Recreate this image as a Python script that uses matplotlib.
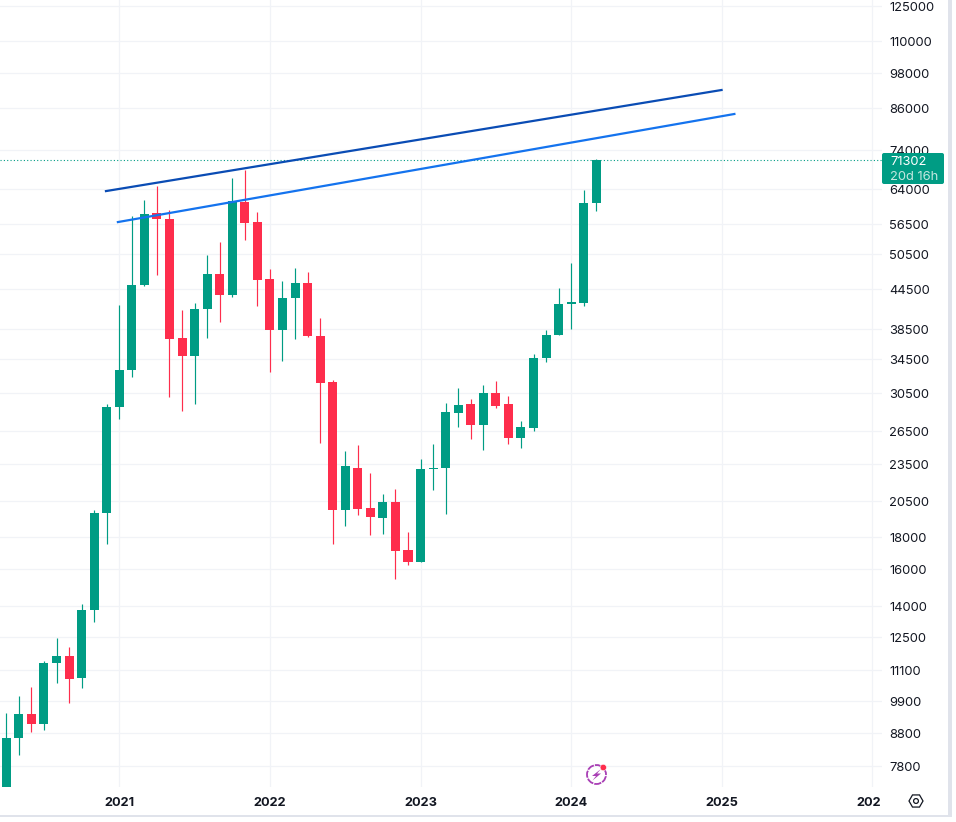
#Monthly candlestick chart with two trend lines, log price axis
import numpy as np
import matplotlib
matplotlib.use('Agg')
import matplotlib.pyplot as plt
from matplotlib.patches import Circle, Polygon, RegularPolygon, FancyBboxPatch, Rectangle
from matplotlib.transforms import Bbox, ScaledTranslation

plt.rcParams['font.family'] = ['Inter', 'DejaVu Sans']

#Candles, one per month from Apr 2020 to Mar 2024
opens = [6410, 8640, 9432, 9110, 11360, 11660, 10760, 13785, 19650, 28920, 33110, 45150,
         58800, 57500, 37200, 34890, 41300, 47000, 43540, 61200, 56900, 46200, 38320, 43060,
         45490, 37490, 31700, 19870, 23200, 20050, 19310, 20450, 17150, 16440, 23080, 23170,
         28300, 29250, 27090, 30450, 29200, 25830, 26800, 34590, 37620, 42100, 42300, 60910]
closes = [8640, 9432, 9110, 11360, 11660, 10740, 13785, 19650, 28920, 33110, 45150, 58510,
          57450, 37130, 34890, 41360, 47000, 43540, 61350, 56610, 45990, 38320, 43060, 45490,
          37490, 31580, 19870, 23320, 19930, 19360, 20450, 17100, 16440, 23080, 23170, 28400,
          29140, 27090, 30450, 29040, 25830, 26900, 34590, 37620, 42110, 42440, 60910, 71302]
highs = [9465, 10070, 10410, 11450, 12450, 12050, 14100, 19865, 29250, 41980, 58090, 61570,
         64800, 59380, 41220, 42290, 50370, 52830, 66730, 68700, 58940, 47860, 45820, 48050,
         47350, 40030, 31930, 24640, 25190, 22740, 21060, 21450, 18330, 23930, 25260, 29350,
         31010, 29790, 31350, 31800, 30110, 27480, 35100, 38330, 44660, 48940, 63880, 71500]
lows = [6160, 8135, 8844, 8915, 10570, 9825, 10390, 13210, 17570, 27730, 32300, 45000,
        46800, 30000, 28530, 29250, 37210, 39450, 43220, 53210, 41810, 32880, 34210, 37080,
        37400, 25360, 17570, 18740, 19500, 18130, 18200, 15440, 16250, 16440, 21380, 19570,
        26900, 25740, 24740, 28820, 25260, 24910, 26500, 34090, 37620, 38450, 41810, 59160]

#Trend lines, month index and price at each end
dark_x = [7.94, 56.98]
dark_y = [63620, 92000]
light_x = [8.89, 58.0]
light_y = [56820, 84290]

last_price = 71302
price_ticks = [125000, 110000, 98000, 86000, 74000, 64000, 56500, 50500, 44500, 38500,
               34500, 30500, 26500, 23500, 20500, 18000, 16000, 14000, 12500, 11100,
               9900, 8800, 7800]
year_ticks = [9, 21, 33, 45, 57, 69]
year_labels = ['2021', '2022', '2023', '2024', '2025', '2026']

up = '#009c84'
down = '#fe2d4c'
grid = '#f1f3f7'
ink = '#131722'

W, H = 956, 822
fig = plt.figure(figsize=(W/100, H/100), dpi=100)
ax = fig.add_axes([0, (H-787)/H, 882/W, 787/H])

#Candles
opens, closes = np.array(opens), np.array(closes)
x = np.arange(len(opens))
colors = [up if c >= o else down for o, c in zip(opens, closes)]
ax.vlines(x, lows, highs, colors=colors, lw=0.85, zorder=3)
ax.bar(x, np.abs(closes-opens), bottom=np.minimum(opens, closes), width=0.72,
       color=colors, lw=0, zorder=4)

#Trend lines and last price
ax.plot(dark_x, dark_y, color='#0a4cb4', lw=1.6, zorder=5)
ax.plot(light_x, light_y, color='#1473ee', lw=1.6, zorder=5)
ax.axhline(last_price, color=up, lw=0.8, ls=(0, (1, 2)), zorder=2)

ax.set_yscale('log')
ax.set_ylim(7231, 127768)
ax.set_xlim(-0.502, 69.76)
ax.yaxis.tick_right()
ax.set_yticks(price_ticks, [str(t) for t in price_ticks])
ax.minorticks_off()
ax.set_xticks(year_ticks, year_labels)
ax.tick_params(axis='y', length=0, pad=5.4, labelsize=9.3, labelcolor=ink)
ax.tick_params(axis='x', length=0, pad=7, labelsize=9.2, labelcolor=ink)
#price labels sit half a pixel lower than the default
nudge = ScaledTranslation(0, -0.5/100, fig.dpi_scale_trans)
for lab in ax.get_yticklabels():
    lab.set_transform(lab.get_transform() + nudge)
for lab in ax.get_xticklabels():
    lab.set_fontweight('bold')
#the last year label is cut by the price scale
last = ax.get_xticklabels()[-1]
last.set_clip_box(Bbox([[0, 0], [880, H]]))
last.set_clip_on(True)
ax.grid(True, color=grid, lw=0.9)
ax.set_axisbelow(True)
for s in ax.spines.values():
    s.set_visible(False)

#Overlay in pixels for the badge, icons and frame
ov = fig.add_axes([0, 0, 1, 1], zorder=10)
ov.set_xlim(0, W)
ov.set_ylim(H, 0)
ov.axis('off')
ov.patch.set_alpha(0)

ov.add_patch(FancyBboxPatch((884, 155), 58, 27, boxstyle='round,pad=2,rounding_size=2',
                            fc=up, ec='none'))
ov.text(890, 162, str(last_price), color='#ffffff', fontsize=9.3, va='center', ha='left')
ov.text(890, 176.5, '20d 16h', color='#c4e8e1', fontsize=9.3, va='center', ha='left')

#bolt icon
ov.add_patch(Circle((596.5, 774.5), 9.5, fc='none', ec='#a93fb5', lw=1.3, ls=(0, (4, 0.6))))
ov.add_patch(Polygon([(601, 769), (592, 776), (596, 776), (592.5, 780.5), (601, 773.5), (597, 773.5)],
                     closed=True, fc='#a93fb5', ec='none'))
ov.add_patch(Circle((603.3, 767.5), 3.2, fc='#fe2d4c', ec='#ffffff', lw=0.4))

#settings icon
ov.add_patch(RegularPolygon((916, 801), 6, radius=7, orientation=np.pi/2, fc='none', ec=ink, lw=0.9))
ov.add_patch(Circle((916, 801), 2.4, fc='none', ec=ink, lw=0.9))

#frame of the page
ov.add_patch(Rectangle((948, 0), 4, 816, fc='#e0e3eb', ec='none'))
ov.add_patch(Rectangle((0, 815), 952, 1.5, fc='#e0e3eb', ec='none'))

plt.savefig('out.png', dpi=100)
